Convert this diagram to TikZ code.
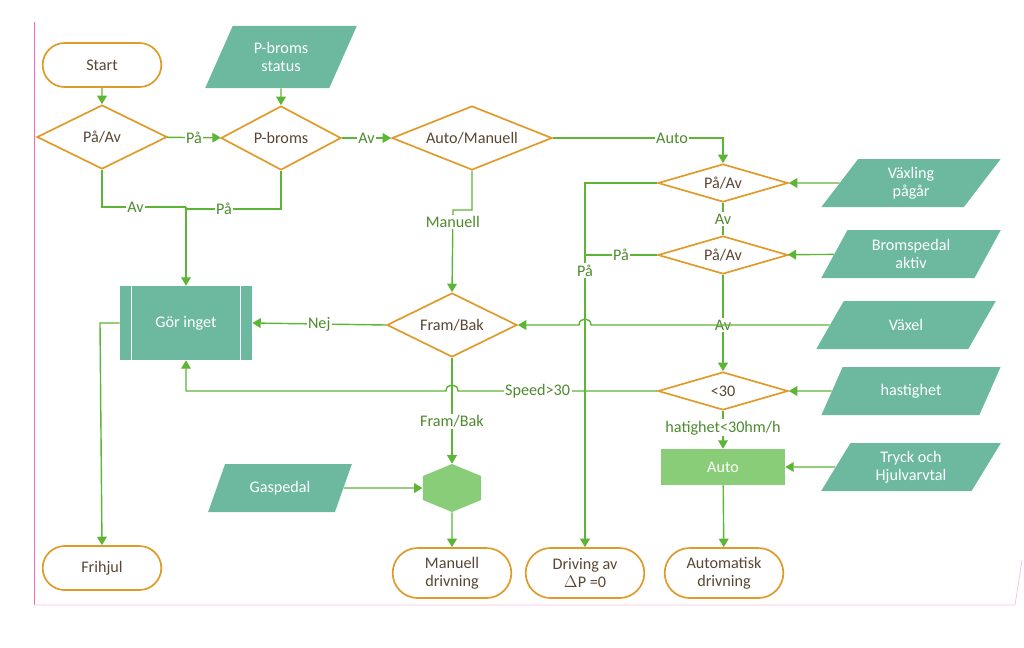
\documentclass[tikz,border=0pt]{standalone}
\usepackage{fontspec}
\setmainfont{Carlito}
\usetikzlibrary{positioning,shapes.geometric,shapes.misc,arrows.meta}
\definecolor{frame}{HTML}{E09A2A}
\definecolor{teal}{HTML}{6DB9A0}
\definecolor{flow}{HTML}{5DB535}
\definecolor{soft}{HTML}{8ACD78}
\definecolor{ink}{HTML}{5A4632}
\definecolor{lbl}{HTML}{4E8A2E}

\begin{document}
\begin{tikzpicture}[
  x = 0.025cm,
  y = -0.025cm,
  font = \fontsize{11.5}{13}\selectfont,
  term/.style = {
    draw = frame,
    line width = 1.2pt,
    rounded rectangle,
    fill = white,
    text = ink,
    align = center,
    minimum width = 3.2cm,
    minimum height = 1.1cm,
  },
  choice/.style = {
    draw = frame,
    line width = 1.2pt,
    diamond,
    aspect = 2,
    fill = white,
    text = ink,
    inner sep = 0pt,
  },
  input/.style = {
    trapezium,
    trapezium left angle = 65,
    trapezium right angle = 115,
    trapezium stretches = true,
    fill = teal,
    text = white,
    align = center,
    minimum width = 4.5cm,
    minimum height = 1.2cm,
  },
  box/.style = {
    rectangle,
    fill = soft,
    text = white,
  },
  lab/.style = {
    fill = white,
    text = lbl,
    inner sep = 1pt,
  },
  >={Triangle[scale=1.1]},
]

  \useasboundingbox (0,0) rectangle (1024,647);

  % page border
  \draw[magenta!60, line width=0.6pt] (34,22) -- (34,605);
  \draw[magenta!25, line width=0.5pt] (34,605) -- (1015,605) -- (1022,560);

  % top row
  \node[term] (start) at (102,65) {Start};
  \node[choice, minimum width=3.25cm, minimum height=1.6cm] (onoff) at (102,137) {På/Av};
  \node[input, minimum width=3.8cm, minimum height=1.55cm] (pstat) at (281,57) {P-broms\\status};
  \node[choice, minimum width=3.0cm, minimum height=1.6cm] (pbrake) at (281,138) {P-broms};
  \node[choice, minimum width=4.0cm, minimum height=1.6cm] (mode) at (472,138) {Auto/Manuell};

  % middle
  \node[rectangle, fill=teal, text=white, minimum width=3.3cm, minimum height=1.85cm] (idle) at (186,323) {Gör inget};
  \draw[white, line width=1pt] ([xshift=0.3cm]idle.north west) -- ([xshift=0.3cm]idle.south west);
  \draw[white, line width=1pt] ([xshift=-0.3cm]idle.north east) -- ([xshift=-0.3cm]idle.south east);
  \node[choice, minimum width=3.25cm, minimum height=1.6cm] (dir) at (452,325) {Fram/Bak};
  \node[regular polygon, regular polygon sides=6, shape border rotate=90, fill=soft, minimum size=1.2cm, inner sep=0pt, xscale=1.4] (gas) at (452,488) {};
  \node[input, minimum width=3.6cm] (pedal) at (280,488) {Gaspedal};

  % right column
  \node[choice, minimum width=3.25cm, minimum height=0.95cm] (shift) at (723,183) {På/Av};
  \node[choice, minimum width=3.25cm, minimum height=0.95cm] (brake) at (723,255) {På/Av};
  \node[choice, minimum width=3.25cm, minimum height=0.95cm] (slow) at (723,391) {<30};
  \node[box, minimum width=3.1cm, minimum height=0.9cm] (auto) at (723,467) {Auto};

  \node[input] (in1) at (911,183) {Växling\\pågår};
  \node[input] (in2) at (911,254) {Bromspedal\\aktiv};
  \node[input] (in3) at (906,325) {Växel};
  \node[input] (in4) at (911,391) {hastighet};
  \node[input] (in5) at (911,467) {Tryck och\\Hjulvarvtal};

  % ends
  \node[term] (free) at (102,568) {Frihjul};
  \node[term, minimum height=1.25cm] (man) at (452,573) {Manuell\\drivning};
  \node[term, minimum height=1.25cm] (coast) at (585,573) {Driving av\\$\Delta$P =0};
  \node[term, minimum height=1.25cm] (autodrv) at (724,573) {Automatisk\\drivning};

  \begin{scope}[draw=flow, line width=1pt]
    \draw[->] (start) -- (onoff);
    \draw[->] (pstat) -- (pbrake);
    \draw[->] (onoff) -- node[lab] {På} (pbrake);
    \draw[->] (pbrake) -- node[lab] {Av} (mode);
    \draw (onoff.south) |- node[lab, pos=0.7] {Av} (186,207);
    \draw (pbrake.south) |- node[lab, pos=0.8] {På} (186,209);
    \draw[->] (186,207) -- (idle.north);
    \draw[->] (mode.south) |- (453,210) -- node[lab, pos=0.15] {Manuell} (dir.north);
    \draw[->] (mode.east) -| node[lab, pos=0.35] {Auto} (shift.north);
    \draw[->] (shift.west) -| node[lab, pos=0.62] {På} (coast.north);
    \draw (shift.south) -- node[lab] {Av} (brake.north);
    \draw (brake.west) -- node[lab] {På} (585,255);
    \draw[->] (brake.south) -- node[lab, pos=0.52] {Av} (slow.north);
    \draw[->] (in3.west) -- (591,325) .. controls (591,317) and (579,317) .. (579,325) -- (dir.east);
    \draw[->] (dir.west) -- node[lab] {Nej} (idle.east);
    \draw[->] (slow.west) -- node[lab, pos=0.6] {Speed>30} (458,391) .. controls (458,383) and (446,383) .. (446,391) -| (idle.south);
    \draw[->] (dir.south) -- node[lab, pos=0.6] {Fram/Bak} (gas.north);
    \draw[->] (slow.south) -- node[lab, pos=0.45] {hatighet<30hm/h} (auto.north);
    \draw[->] (auto) -- (autodrv);
    \draw[->] (pedal) -- (gas);
    \draw[->] (gas) -- (man);
    \draw[->] (idle.west) -- (100,323) -- (free.north);
    \draw[->] (in1) -- (shift);
    \draw[->] (in2) -- (brake);
    \draw[->] (in4) -- (slow);
    \draw[->] (in5) -- (auto);
  \end{scope}

\end{tikzpicture}
\end{document}
